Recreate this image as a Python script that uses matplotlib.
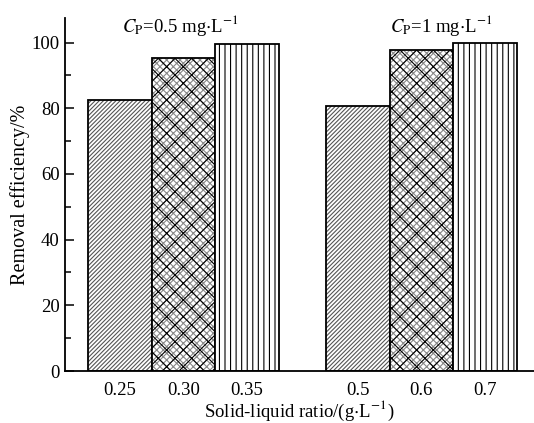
import matplotlib
matplotlib.use('Agg')
import matplotlib.pyplot as plt
import numpy as np

# solid-liquid ratio, g/L
ratio_low = ['0.25', '0.30', '0.35']   # C_P = 0.5 mg/L
ratio_high = ['0.5', '0.6', '0.7']     # C_P = 1 mg/L
eff_low = [82.4, 95.3, 99.7]
eff_high = [80.6, 97.7, 100.0]


def main():
    plt.rcParams['font.family'] = ['Liberation Serif', 'DejaVu Serif']
    plt.rcParams['mathtext.fontset'] = 'stix'
    plt.rcParams['font.size'] = 13.5
    plt.rcParams['hatch.linewidth'] = 0.8

    fig = plt.figure(figsize=(5.34, 4.23), dpi=100)
    ax = fig.add_axes([0.1212, 0.1229, 0.8788, 0.8338])

    pos = np.concatenate([np.arange(3), np.arange(3) + 3.75])
    vals = eff_low + eff_high
    labels = ratio_low + ratio_high
    hatches = ['////////', 'xx', '|||', '////////', 'xx', '|||']
    hcolors = ['#555555', 'black', 'black', '#555555', 'black', 'black']

    for x, v, h, hc in zip(pos, vals, hatches, hcolors):
        if h == 'xx':
            # fine grey cross under a coarse black one
            ax.bar(x, v, width=1.0, color='white', edgecolor='#888888',
                   hatch='xxxxx', linewidth=0)
            ax.bar(x, v, width=1.0, color='none', edgecolor='black',
                   hatch=h, linewidth=0)
        else:
            ax.bar(x, v, width=1.0, color='white', edgecolor=hc,
                   hatch=h, linewidth=0)
        ax.bar(x, v, width=1.0, color='none', edgecolor='black', linewidth=1.3)

    ax.set_xlim(-0.867, 6.523)
    ax.set_ylim(0, 107.4)
    ax.set_yticks(np.arange(0, 101, 20))
    ax.set_yticks(np.arange(10, 101, 20), minor=True)
    ax.set_xticks(pos, labels)

    ax.spines['top'].set_visible(False)
    ax.spines['right'].set_visible(False)
    ax.spines['left'].set_linewidth(1.3)
    ax.spines['bottom'].set_linewidth(1.3)
    ax.tick_params(axis='y', which='major', direction='in', length=6.5,
                   width=1.1, pad=3.6)
    ax.tick_params(axis='y', which='minor', direction='in', length=4.5,
                   width=1.1)
    ax.tick_params(axis='x', length=0, pad=8)

    ax.set_ylabel('Removal efficiency/%', fontsize=14.5, labelpad=1)
    ax.set_xlabel(r'Solid-liquid ratio/(g$\cdot$L$^{-1}$)', labelpad=0)

    ax.text(0.95, 105.3, r'$C_{\mathrm{P}}$=0.5 mg$\cdot$L$^{-1}$',
            ha='center', va='center')
    ax.text(5.06, 105.3, r'$C_{\mathrm{P}}$=1 mg$\cdot$L$^{-1}$',
            ha='center', va='center')

    fig.savefig('out.png', dpi=100)


if __name__ == "__main__":
    main()
